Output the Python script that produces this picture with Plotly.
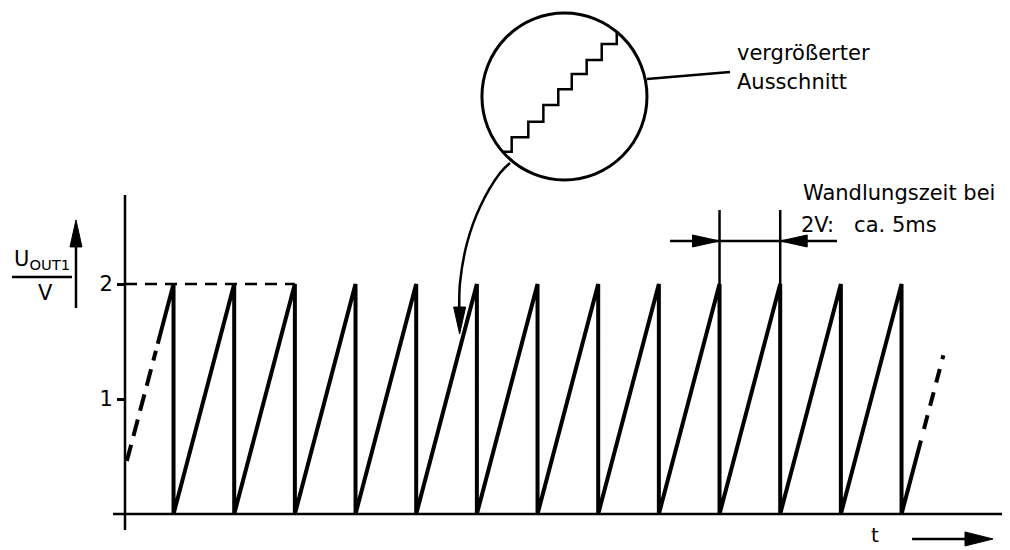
import plotly.graph_objects as go

# ------------------------------------------------------------------
# Data (time in ms, voltage in V)
# ------------------------------------------------------------------
drop_times_ms = [4, 9, 14, 19, 24, 29, 34, 39, 44, 49, 54, 59, 64]
peak_volts = [2.0, 2.0, 2.0, 2.0, 2.0, 2.0, 2.0, 2.0, 2.0, 2.0, 2.0, 2.0, 2.0]

lead_in_dashed_t = [0.15, 2.55]
lead_in_dashed_v = [0.46, 1.42]
lead_in_solid_t = [2.7]
lead_in_solid_v = [1.48]
tail_solid_t = [65.6]
tail_solid_v = [0.64]
tail_dashed_t = [65.85, 67.45]
tail_dashed_v = [0.74, 1.38]

ref_level_v = 2.0
ref_level_end_t = 14
tick_vals = [1, 2]
tick_text = ["1", "2"]

conv_time_marks_t = [49, 54]
conv_text_1 = "Wandlungszeit bei"
conv_text_2 = "2V:\u00a0\u00a0\u00a0ca. 5ms"
zoom_text_1 = "vergrößerter"
zoom_text_2 = "Ausschnitt"

# magnified staircase inside the circle
stair_t = [31.18, 31.87, 33.24, 34.48, 35.71, 36.82, 38.05, 39.29, 40.53]
stair_v = [3.150, 3.276, 3.411, 3.557, 3.693, 3.826, 3.948, 4.087, 4.194]

# curved pointer from circle to the ramp
curve_t = [31.73, 30.91, 29.26, 28.19, 27.61, 27.55]
curve_v = [3.052, 2.965, 2.670, 2.357, 2.009, 1.80]

# ------------------------------------------------------------------
# Axes ranges / scale (page body has an 8 px margin)
# ------------------------------------------------------------------
W, H = 1002, 542
X_RANGE = [-9.643, 72.94]
Y_RANGE = [-0.313, 4.400]
PX_PER_MS = W / (X_RANGE[1] - X_RANGE[0])
PX_PER_V = H / (Y_RANGE[1] - Y_RANGE[0])
Y_AXIS_POS = (0 - X_RANGE[0]) / (X_RANGE[1] - X_RANGE[0])

FONT = "DejaVu Sans"
BLACK = "black"

fig = go.Figure()


def line(xs, ys, width=2.5, dash=None, shape="linear"):
    fig.add_trace(go.Scatter(
        x=xs, y=ys, mode="lines",
        line=dict(color=BLACK, width=width, dash=dash, shape=shape),
        hoverinfo="skip", showlegend=False))


def head(tip_t, tip_v, dx, dy, length_px=27, half_px=6):
    bx = tip_t - dx * length_px / PX_PER_MS
    by = tip_v - dy * length_px / PX_PER_V
    px, py = -dy, dx
    xs = [tip_t, bx + px * half_px / PX_PER_MS, bx - px * half_px / PX_PER_MS, tip_t]
    ys = [tip_v, by + py * half_px / PX_PER_V, by - py * half_px / PX_PER_V, tip_v]
    fig.add_trace(go.Scatter(
        x=xs, y=ys, mode="lines", fill="toself", fillcolor=BLACK,
        line=dict(color=BLACK, width=1), hoverinfo="skip", showlegend=False))


# axes lines
line([-0.99, 72.9], [0, 0], width=2.5)
line([0, 0], [-0.139, 2.774], width=2.5)

# reference dashed line at 2 V
line([0, ref_level_end_t], [ref_level_v, ref_level_v], width=2.5, dash="12px,8px")

# sawtooth
saw_t = list(lead_in_solid_t)
saw_v = list(lead_in_solid_v)
for t, p in zip(drop_times_ms, peak_volts):
    saw_t += [t, t]
    saw_v += [p, 0.0]
saw_t += tail_solid_t
saw_v += tail_solid_v
line(saw_t, saw_v, width=4)

# dashed lead-in / tail
line(lead_in_dashed_t, lead_in_dashed_v, width=4, dash="17px,9px")
line(tail_dashed_t, tail_dashed_v, width=4, dash="14px,10px")

# conversion time dimension
for t in conv_time_marks_t:
    line([t, t], [2.0, 2.643], width=2.5)
line([44.92, 58.68], [2.374, 2.374], width=2.5)
head(conv_time_marks_t[0], 2.374, 1, 0, 27, 6)
head(conv_time_marks_t[1], 2.374, -1, 0, 27, 6)

# magnified circle
fig.add_shape(type="circle", xref="x", yref="y",
              x0=29.42, x1=43.02, y0=2.904, y1=4.357,
              line=dict(color=BLACK, width=3))
line(stair_t, stair_v, width=2.5, shape="hv")
line([43.02, 49.86], [3.783, 3.843], width=2.5)

# curved pointer
line(curve_t, curve_v, width=2.5, shape="spline")
head(27.58, 1.565, 0, -1, 27, 6)

# y label arrow and fraction bar
line([-9.31, -4.37], [2.061, 2.061], width=2.5)
line([-4.04, -4.04], [1.791, 2.40], width=2.5)
head(-4.04, 2.557, 0, 1, 27, 6)

# t arrow
line([64.87, 70.0], [-0.217, -0.217], width=2.5)
head(71.54, -0.217, 1, 0, 28, 7)

tf = dict(family=FONT, size=21, color=BLACK)
annotations = [
    dict(x=50.3, y=4.009, text=zoom_text_1, xanchor="left", yanchor="middle"),
    dict(x=50.3, y=3.757, text=zoom_text_2, xanchor="left", yanchor="middle"),
    dict(x=55.7, y=2.791, text=conv_text_1, xanchor="left", yanchor="middle"),
    dict(x=55.55, y=2.513, text=conv_text_2, xanchor="left", yanchor="middle"),
    dict(x=-6.84, y=2.08, text="U<sub>OUT1</sub>", xanchor="center", yanchor="bottom"),
    dict(x=-6.59, y=1.922, text="V", xanchor="center", yanchor="middle"),
]
for a in annotations:
    a.update(xref="x", yref="y", showarrow=False, font=tf)
annotations.append(dict(x=61.81, y=-0.18, text="t", xanchor="center", yanchor="middle",
                        xref="x", yref="y", showarrow=False,
                        font=dict(family=FONT, size=20, color=BLACK), borderpad=0))

fig.update_layout(
    width=W, height=H, autosize=False,
    margin=dict(l=0, r=0, t=0, b=0),
    paper_bgcolor="white", plot_bgcolor="white",
    annotations=annotations,
    xaxis=dict(range=X_RANGE, visible=False, fixedrange=True),
    yaxis=dict(range=Y_RANGE, anchor="free", position=Y_AXIS_POS,
               showline=False, showgrid=False, zeroline=False,
               tickmode="array", tickvals=tick_vals, ticktext=tick_text,
               ticks="outside", ticklen=8, tickwidth=2.5, tickcolor=BLACK,
               tickfont=dict(family=FONT, size=21, color=BLACK),
               automargin=False, fixedrange=True),
)

fig.write_html("out.html")
